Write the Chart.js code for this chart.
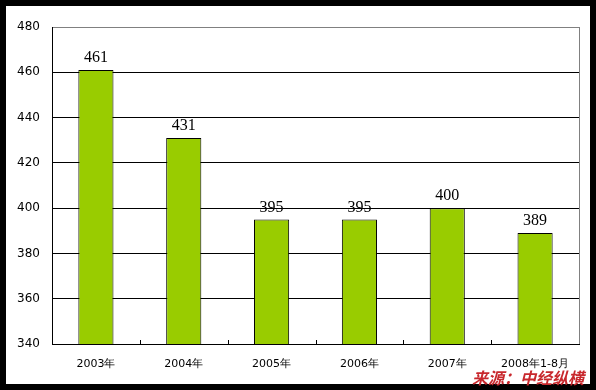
<!DOCTYPE html>
<html>
<head>
<meta charset="utf-8">
<script src="https://cdn.jsdelivr.net/npm/chart.js@4"></script>
<style>
  html, body { margin: 0; padding: 0; background: #000; }
  #panel { position: absolute; left: 6px; top: 6px; width: 584px; height: 378px; background: #fff; }
  #source {
    position: absolute; left: 472px; top: 367px;
    font-family: "Noto Sans CJK SC", sans-serif; font-size: 16px; font-weight: bold; font-style: italic;
    color: #c8282d; line-height: 20px; white-space: nowrap;
  }
</style>
</head>
<body>
<div id="panel"><canvas id="chart" width="584" height="378"></canvas></div>
<div id="source">来源：中经纵横</div>
<script>
// 数据
const years = ["2003年", "2004年", "2005年", "2006年", "2007年", "2008年1-8月"];
const values = [461, 431, 395, 395, 400, 389];
const yMin = 340;
const yMax = 480;
const yStep = 20;

// 柱顶数值
const valueLabels = {
    id: "valueLabels",
    afterDatasetsDraw(chart) {
        const ctx = chart.ctx;
        const meta = chart.getDatasetMeta(0);
        ctx.save();
        ctx.font = '16px "Liberation Serif", serif';
        ctx.fillStyle = "#000";
        ctx.textAlign = "center";
        ctx.textBaseline = "bottom";
        meta.data.forEach((bar, i) => {
            ctx.fillText(values[i], bar.x, bar.y - 4);
        });
        ctx.restore();
    },
};

// 右边框和内侧刻度
const frame = {
    id: "frame",
    afterDraw(chart) {
        const ctx = chart.ctx;
        const area = chart.chartArea;
        const xs = chart.scales.x;
        ctx.save();
        ctx.strokeStyle = "#808080";
        ctx.lineWidth = 1;
        ctx.beginPath();
        ctx.moveTo(Math.round(area.right) + 0.5, area.top);
        ctx.lineTo(Math.round(area.right) + 0.5, area.bottom);
        ctx.stroke();
        ctx.strokeStyle = "#000";
        ctx.beginPath();
        for (let i = 0; i < years.length - 1; i++) {
            const x = Math.round((xs.getPixelForValue(i) + xs.getPixelForValue(i + 1)) / 2) + 0.5;
            ctx.moveTo(x, area.bottom);
            ctx.lineTo(x, area.bottom - 4);
        }
        ctx.stroke();
        ctx.restore();
    },
};

new Chart(document.getElementById("chart").getContext("2d"), {
    type: "bar",
    data: {
        labels: years,
        datasets: [
            {
                data: values,
                backgroundColor: "#99cc00",
                borderColor: "#000",
                borderWidth: 1,
                borderSkipped: false,
                categoryPercentage: 1,
                barPercentage: 0.4,
            },
        ],
    },
    options: {
        responsive: false,
        animation: false,
        layout: { padding: { left: 0, right: 11, top: 21, bottom: 0 } },
        plugins: {
            legend: { display: false },
            tooltip: { enabled: false },
        },
        scales: {
            x: {
                grid: { display: false },
                border: { display: true, color: "#000", width: 1 },
                ticks: {
                    color: "#000",
                    padding: 6,
                    maxRotation: 0,
                    autoSkip: false,
                    font: { family: '"DejaVu Sans", sans-serif', size: 11 },
                },
                afterFit: (s) => { s.height = 40; },
            },
            y: {
                min: yMin,
                max: yMax,
                ticks: {
                    stepSize: yStep,
                    color: "#000",
                    padding: 12,
                    font: { family: '"DejaVu Sans", sans-serif', size: 12 },
                },
                grid: {
                    color: (c) => (c.tick && c.tick.value === yMax ? "#808080" : "#000"),
                    drawTicks: false,
                },
                border: { display: true, color: "#000", width: 1 },
                afterFit: (s) => { s.width = 46; },
            },
        },
    },
    plugins: [valueLabels, frame],
});
</script>
</body>
</html>
